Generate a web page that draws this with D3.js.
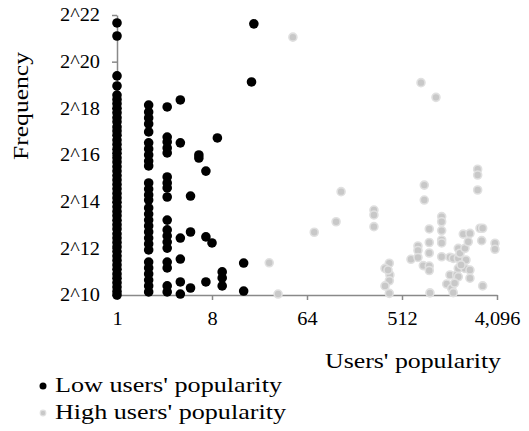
<!DOCTYPE html>
<html>
<head>
<meta charset="utf-8">
<script src="https://cdn.jsdelivr.net/npm/d3@7"></script>
<style>
 body { margin: 0; background: #fff; }
</style>
</head>
<body>
<script>
// x = users' popularity, y = log2 of frequency
var lowPopularity = [
 1,1,1,1,1,1,1,1,1,1,1,1,1,1,1,1,1,1,1,1,1,1,1,1,1,1,1,1,1,1,1,1,1,1,1,1,1,1,1,1,1,1,1,1,1,1,1,1,1,1,
 2,2,2,2,2,2,2,2,2,2,2,2,2,2,2,2,2,2,2,2,2,2,2,2,2,2,2,2,
 3,3,3,3,3,3,3,3,3,3,3,3,3,3,3,3,3,3,
 4,4,4,4,4,4,
 5,5,5, 6,6, 7,7,7, 8, 9, 10,10,10, 16,16, 19, 20
];
var lowLog2Freq = [
 21.66,21.10,19.39,18.96,18.57,18.38,18.20,18.00,17.81,17.60,17.42,17.20,17.03,16.85,16.64,16.45,16.25,16.07,15.88,15.70,15.50,15.31,15.12,14.93,14.74,14.55,14.35,14.16,13.97,13.78,13.58,13.40,13.20,13.01,12.83,12.62,12.44,12.25,12.06,11.86,11.67,11.48,11.29,11.10,10.90,10.72,10.53,10.34,10.15,10.00,
 18.14,17.84,17.59,17.33,16.99,16.52,16.26,16.00,15.74,15.53,14.80,14.54,14.29,14.07,13.73,13.47,13.21,12.96,12.70,12.44,12.19,11.93,11.41,11.16,10.90,10.64,10.39,10.13,
 18.06,16.77,16.56,16.30,16.09,15.06,14.80,14.59,14.20,13.21,12.79,12.53,12.27,12.01,11.41,11.16,10.39,10.13,
 18.36,16.52,12.44,11.54,10.56,10.04,
 14.24,12.70,10.30, 16.00,15.87, 15.31,12.49,10.56, 12.23, 16.73, 10.99,10.73,10.39, 11.37,10.17, 19.13, 21.62
];
var highPopularity = [
 47, 28, 34, 75, 121, 135, 277, 277, 277, 388, 353, 393, 388, 353, 388, 377,
 623, 726, 726, 726, 776, 834, 834, 816, 930, 930, 930, 930, 930, 944,
 1077, 1220, 1220, 1220, 1220, 1220, 1220, 1361, 1463, 1463, 1518, 1573, 1573,
 1694, 1755, 1755, 1755, 1755, 1821, 1958, 2031, 2031, 2077, 2184, 2266, 2266, 2266,
 2682, 2682, 2682, 2821, 2992, 2929, 2992, 3918, 3918, 1865, 1620
];
var highLog2Freq = [
 21.05, 11.38, 10.04, 12.69, 13.14, 14.43, 13.64, 13.43, 12.93, 11.36, 11.14, 10.86, 10.61, 10.39, 10.07, 11.07,
 11.53, 12.10, 11.91, 11.61, 19.10, 14.71, 14.07, 11.26, 12.83, 12.25, 11.80, 11.24, 11.05, 10.09,
 18.47, 13.36, 13.14, 12.76, 12.36, 12.23, 11.64, 10.47, 11.62, 10.86, 10.29, 10.10, 11.57,
 10.86, 12.00, 11.57, 11.14, 10.78, 11.79, 12.61, 12.00, 11.14, 11.50, 12.28, 12.64, 11.07, 10.72,
 15.39, 15.14, 14.50, 12.86, 12.86, 12.33, 10.39, 12.22, 11.96, 11.29, 10.51
];
var xTicks = [1, 8, 64, 512, 4096];
var yTicks = [10, 12, 14, 16, 18, 20, 22];
var seriesNames = ["Low users' popularity", "High users' popularity"];

var serif = "'Liberation Serif', 'Times New Roman', serif";

var svg = d3.select("body").append("svg").attr("width", 529).attr("height", 431);

var x = d3.scaleLog().base(2).domain([1, 4096]).range([117, 497]);
var y = d3.scaleLinear().domain([10, 22]).range([295, 15]);

/* the original text is a bit wider than its height suggests, stretch it */
function stretch(sel, k) {
 sel.each(function() {
  var w = this.getComputedTextLength();
  d3.select(this).attr("textLength", w * k).attr("lengthAdjust", "spacingAndGlyphs");
 });
}

var gy = svg.append("g").attr("transform", "translate(117,0)")
 .call(d3.axisLeft(y).tickValues(yTicks).tickFormat(function(d) { return "2^" + d; }).tickSize(5).tickSizeOuter(0).tickPadding(12));
var gx = svg.append("g").attr("transform", "translate(0,295)")
 .call(d3.axisBottom(x).tickValues(xTicks).tickFormat(d3.format(",")).tickSize(5).tickSizeOuter(0).tickPadding(12));
svg.selectAll(".domain, .tick line").attr("stroke", "#898989").attr("stroke-width", 1.5);
svg.selectAll(".tick text").style("font-family", serif).style("font-size", "18px").attr("fill", "#000");
stretch(svg.selectAll(".tick text"), 1.13);

svg.append("g").selectAll("circle").data(lowPopularity).enter().append("circle")
.attr("cx", function(d) { return x(d); })
.attr("cy", function(d, i) { return y(lowLog2Freq[i]); })
.attr("r", 4.8).attr("fill", "#000");

svg.append("g").selectAll("circle").data(highPopularity).enter().append("circle")
.attr("cx", function(d) { return x(d); })
.attr("cy", function(d, i) { return y(highLog2Freq[i]); })
.attr("r", 4).attr("fill", "#c8c8c8").attr("stroke", "#e0e0e0").attr("stroke-width", 1.6);

svg.append("text").text("Frequency")
.attr("transform", "translate(28,106) rotate(-90)").attr("text-anchor", "middle")
.style("font-family", serif).style("font-size", "22px").attr("textLength", 108).attr("lengthAdjust", "spacingAndGlyphs");
svg.append("text").text("Users' popularity")
.attr("x", 501).attr("y", 368).attr("text-anchor", "end")
.style("font-family", serif).style("font-size", "21px").attr("textLength", 176).attr("lengthAdjust", "spacingAndGlyphs");

/* legend */
svg.append("circle").attr("cx", 43).attr("cy", 386).attr("r", 3.5).attr("fill", "#000");
svg.append("circle").attr("cx", 43).attr("cy", 413).attr("r", 2.8).attr("fill", "#c8c8c8").attr("stroke", "#e0e0e0").attr("stroke-width", 1.2);
svg.append("text").text(seriesNames[0]).attr("x", 55).attr("y", 392)
.style("font-family", serif).style("font-size", "21px").attr("textLength", 227).attr("lengthAdjust", "spacingAndGlyphs");
svg.append("text").text(seriesNames[1]).attr("x", 55).attr("y", 419)
.style("font-family", serif).style("font-size", "21px").attr("textLength", 231).attr("lengthAdjust", "spacingAndGlyphs");
</script>
</body>
</html>
